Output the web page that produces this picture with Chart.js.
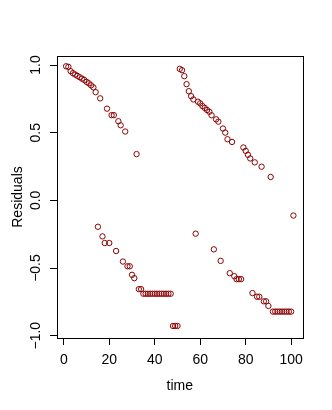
<!DOCTYPE html>
<html>
<head>
<meta charset="utf-8">
<script src="https://cdn.jsdelivr.net/npm/chart.js@4/dist/chart.umd.min.js"></script>
<style>
  html, body { margin: 0; padding: 0; background: #fff; }
  #wrap { width: 332px; height: 410px; }
</style>
</head>
<body>
<div id="wrap"><canvas id="grafico" width="332" height="410"></canvas></div>
<script>
// valores
const time = [
  1, 2, 3, 4, 5, 6, 7, 8, 9, 10,
  11, 12, 13, 14, 15, 16, 17, 18, 19, 20,
  21, 22, 23, 24, 25, 26, 27, 28, 29, 30,
  31, 32, 33, 34, 35, 36, 37, 38, 39, 40,
  41, 42, 43, 44, 45, 46, 47, 48, 49, 50,
  51, 52, 53, 54, 55, 56, 57, 58, 59, 60,
  61, 62, 63, 64, 65, 66, 67, 68, 69, 70,
  71, 72, 73, 74, 75, 76, 77, 78, 79, 80,
  81, 82, 83, 84, 85, 86, 87, 88, 89, 90,
  91, 92, 93, 94, 95, 96, 97, 98, 99, 100,
  101
];
const residuals = [
  0.991, 0.987, 0.955, 0.940, 0.930, 0.920, 0.910, 0.900, 0.890, 0.876,
  0.865, 0.850, 0.835, 0.800, -0.195, 0.754, -0.266, -0.315, 0.678, -0.315,
  0.630, 0.630, -0.374, 0.585, 0.555, -0.452, 0.509, -0.487, -0.487, -0.550,
  -0.575, 0.342, -0.656, -0.656, -0.690, -0.690, -0.690, -0.690, -0.690, -0.690,
  -0.690, -0.690, -0.690, -0.690, -0.690, -0.690, -0.690, -0.928, -0.928, -0.928,
  0.972, 0.962, 0.918, 0.859, 0.807, 0.770, 0.746, -0.246, 0.729, 0.717,
  0.697, 0.683, 0.668, 0.655, 0.629, -0.362, 0.599, 0.582, -0.447, 0.531,
  0.501, 0.452, -0.538, 0.432, -0.560, -0.582, -0.582, -0.582, 0.391, 0.366,
  0.337, 0.310, -0.685, 0.281, -0.712, -0.712, 0.249, -0.746, -0.746, -0.780,
  0.173, -0.822, -0.822, -0.822, -0.822, -0.822, -0.822, -0.822, -0.822, -0.822,
  -0.112
];
const xTicks = [0, 20, 40, 60, 80, 100];
const xTickLabels = ['0', '20', '40', '60', '80', '100'];
const yTicks = [-1, -0.5, 0, 0.5, 1];
const yTickLabels = ['\u22121.0', '\u22120.5', '0.0', '0.5', '1.0'];

const fonte = { family: '"Liberation Sans", Arial, sans-serif', size: 14 };

const pontos = time.map((t, i) => ({ x: t, y: residuals[i] }));

// caixa em volta da area do grafico (box() do R)
const caixa = {
  id: 'caixa',
  afterDraw(chart) {
    const a = chart.chartArea;
    const ctx = chart.ctx;
    ctx.save();
    ctx.strokeStyle = '#000';
    ctx.lineWidth = 1;
    ctx.strokeRect(Math.round(a.left) + 0.5, Math.round(a.top) + 0.5,
      Math.round(a.right - a.left), Math.round(a.bottom - a.top));
    ctx.restore();
  }
};

function configurarGrafico() {
  const data = {
    datasets: [{
      label: 'Residuals',
      data: pontos,
      showLine: false,
      pointStyle: 'circle',
      pointRadius: 2.7,
      pointHoverRadius: 2.7,
      pointBorderWidth: 1,
      pointBackgroundColor: 'rgba(0,0,0,0)',
      pointBorderColor: '#8B0000'
    }]
  };

  const config = {
    type: 'scatter',
    data: data,
    plugins: [caixa],
    options: {
      responsive: false,
      animation: false,
      events: [],
      layout: { padding: { left: 0, top: 56, right: 29.5, bottom: 0 } },
      plugins: { legend: { display: false }, tooltip: { enabled: false } },
      scales: {
        x: {
          type: 'linear',
          min: -3, max: 105,
          afterBuildTicks: s => { s.ticks = xTicks.map(v => ({ value: v })); },
          afterFit: s => { s.height = 72; },
          border: { display: false },
          grid: { display: true, drawOnChartArea: false, drawTicks: true, tickLength: 7, color: '#000', lineWidth: 1 },
          ticks: {
            color: '#000', font: fonte, padding: 7, maxRotation: 0, minRotation: 0,
            callback: (v, i) => xTickLabels[i]
          },
          title: { display: true, text: 'time', color: '#000', font: fonte, padding: { top: 0, bottom: 15 } }
        },
        y: {
          type: 'linear',
          min: -1.017, max: 1.067,
          afterBuildTicks: s => { s.ticks = yTicks.map(v => ({ value: v })); },
          afterFit: s => { s.width = 57; },
          border: { display: false },
          grid: { display: true, drawOnChartArea: false, drawTicks: true, tickLength: 7, color: '#000', lineWidth: 1 },
          ticks: {
            color: '#000', font: fonte, padding: 0, minRotation: 90, maxRotation: 90, crossAlign: 'center',
            callback: (v, i) => yTickLabels[i]
          },
          title: { display: true, text: 'Residuals', color: '#000', font: fonte, padding: { top: 10, bottom: 0 } }
        }
      }
    }
  };

  new Chart(document.getElementById('grafico'), config);
}

configurarGrafico();
</script>
</body>
</html>
